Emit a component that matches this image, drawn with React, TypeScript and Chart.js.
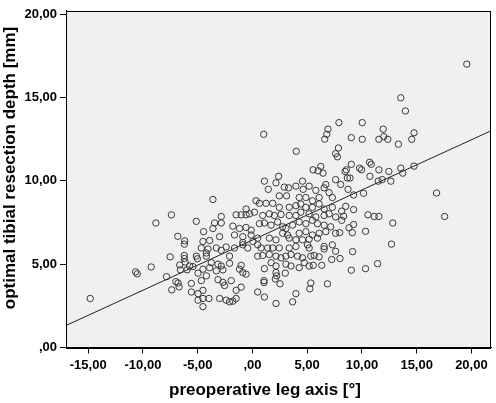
import React, { useEffect, useRef } from "react";
import { Chart, registerables } from "chart.js";

Chart.register(...registerables);

const legAxis = [
  1.03, 4.0, 6.9, 6.79, 6.6, 7.9, 7.85, 7.6,
  19.58, 13.55, 13.97, 10.03, 11.94, 9.03, 10.03, 11.55, 12.0, 12.36, 13.33, 14.76, 14.55,
  9.03, 8.58, 8.46, 8.67, 8.91, 8.06, 9.79, 9.97, 10.7, 10.85, 11.55, 12.46, 13.55, 13.73, 14.76, 10.73, 11.49, 11.85, 12.64, 8.73, 9.24, 10.15, 16.82, 8.52, 8.15, 8.33, 9.24, 8.15, 10.55, 11.12, 11.55, 17.55, 12.82, 9.24, 8.82, 9.12, 10.33, 7.97, 12.7,
  9.15, 8.0, 9.03, 10.33, 11.43,
  -7.4, -8.82, -5.13, -6.82, -6.19,
  -14.82, -10.67, -10.52, -9.25, -7.52, -6.22, -6.22, -6.15, -6.64, -5.73, -5.12, -5.03, -6.58, -5.97, -5.43, -7.85, -7.0, -6.79, -6.7, -7.37, -5.58, -5.58, -4.97, -4.97, -4.97, -6.22,
  7.76, 5.54, 6.0, 6.45, 6.24, 7.6, 1.09, 2.39, 2.15, 1.45, 2.91, 3.3, 3.97, 4.57, 4.63, 5.18, 5.79, 6.55, 6.7, 7.0,
  2.45, 3.12, 4.27, 4.88, 5.48, 6.09, 7.3, -3.61, 0.33, 0.64, 1.24, 1.85, 2.45, 3.36, 3.97, 4.42, 4.88, 5.48, 6.09, 6.55, 7.3,
  -0.58, -0.27, 0.18, -1.49, -1.03, -0.58, 0.94, 1.54, 2.0, 2.61, 3.36, 3.97, 4.42, 5.18, 5.79, 6.55, 7.0, 7.6,
  -2.85, -2.85, -3.46, -3.61, -4.46, -1.79, -1.18, -0.58, -0.12, 0.64, 1.09, 1.7, 2.3, 2.76, 3.06, 3.67, 4.27, 4.88, 5.48, 5.94, 6.55, 7.15,
  2.76, 3.21, 4.27, 4.88, 5.48, 6.09, 6.7, 7.6, -3.0, -1.64, -0.88, -0.12, 0.48, 1.54, 2.15, 3.36, 3.97, 4.57, 5.18, 5.94, -4.52, -3.91, -0.88, 0.03,
  -4.67, -4.06, -3.3, -2.85, -2.4, -1.64, -0.88, -0.43, 0.48, 0.79, 1.39, 1.85, 2.45, 3.36, 3.97, 5.03, 5.18, 6.55, 6.55, 7.3, 7.6,
  -4.21, -4.21, -2.09, 0.48, 0.94, 1.54, 2.15, 2.61, 3.06, 3.52, 4.12, 4.57, 5.33, 5.64, 6.09, 7.24,
  -3.76, -3.15, -2.85, -2.09, -1.03, 1.09, 1.7, 2.15, 3.06, 3.52, 4.27, 4.73, 5.18, 5.55, 6.33,
  -4.52, -3.91, -3.3, -2.7, -1.18, -0.88, -0.58, -4.21, -4.67, -3.15, -2.7, -2.55, -1.94, -4.52, -1.49, -1.03,
  1.06, 1.06, 2.15, 2.21, 2.09, 2.52, 3.0, 5.33, 5.24, 6.85, 0.48, 1.09, 3.97, 3.67, 2.15,
  -4.52, -3.0, -3.97, -2.4, -2.09, -1.79, -1.49, -4.52,
];

const resectionDepth = [
  12.79, 11.77, 13.1, 12.79, 12.5, 13.49, 11.97, 11.63,
  17.0, 14.98, 14.19, 13.49, 13.1, 12.59, 12.49, 12.49, 12.65, 12.49, 12.2, 12.88, 12.49,
  10.99, 10.66, 10.56, 10.17, 10.17, 9.78, 10.76, 10.66, 11.11, 10.99, 10.66, 10.56, 10.76, 10.46, 10.88, 10.27, 9.98, 10.07, 9.98, 9.49, 9.15, 9.25, 9.27, 8.47, 8.18, 7.88, 8.27, 7.63, 7.96, 7.86, 7.86, 7.86, 7.47, 7.38, 7.18, 6.89, 6.97, 6.89, 6.2,
  5.75, 5.34, 4.64, 4.73, 5.03,
  7.96, 7.47, 7.57, 6.67, 6.4,
  2.94, 4.54, 4.42, 4.83, 5.44, 5.52, 5.34, 5.13, 4.95, 4.89, 5.48, 5.32, 4.66, 4.66, 4.85, 4.25, 3.95, 3.87, 3.64, 3.46, 3.84, 3.33, 4.46, 3.23, 2.84, 6.2,
  11.44, 10.66, 10.6, 10.46, 10.86, 10.07, 9.98, 10.27, 9.88, 9.49, 9.62, 9.58, 9.68, 9.98, 9.49, 9.68, 9.43, 9.58, 9.78, 9.29,
  9.1, 9.1, 9.0, 9.0, 8.8, 9.0, 9.0, 8.88, 8.8, 8.65, 8.65, 8.65, 8.41, 8.41, 8.51, 8.61, 8.41, 8.41, 8.61, 8.31, 8.41,
  8.31, 8.02, 8.12, 7.96, 7.96, 7.96, 7.92, 8.02, 7.92, 7.98, 7.92, 7.92, 8.12, 8.02, 7.83, 7.92, 8.02, 7.83,
  7.86, 7.47, 7.47, 7.14, 6.95, 7.28, 7.14, 7.2, 7.04, 7.43, 7.47, 7.34, 7.53, 7.24, 7.14, 7.34, 7.53, 7.43, 7.63, 7.43, 7.34, 7.24,
  6.85, 6.75, 6.85, 6.95, 6.75, 6.85, 6.95, 6.85, 6.65, 6.75, 6.65, 6.75, 6.56, 6.56, 6.46, 6.56, 6.46, 6.46, 6.5, 6.56, 6.36, 6.42, 6.3, 6.36,
  5.97, 5.91, 5.97, 5.83, 6.03, 5.97, 6.16, 5.97, 6.16, 5.97, 5.97, 5.97, 5.97, 5.97, 6.06, 6.16, 5.97, 6.06, 5.91, 6.16, 5.77,
  5.67, 5.48, 5.48, 5.48, 5.52, 5.58, 5.48, 5.38, 5.48, 5.58, 5.48, 5.38, 5.48, 5.52, 5.44, 5.28,
  5.09, 5.0, 4.89, 5.05, 4.93, 4.73, 5.09, 4.89, 5.0, 4.89, 4.79, 5.09, 4.89, 4.93, 4.93,
  4.7, 4.79, 4.6, 4.66, 4.7, 4.5, 4.4, 4.3, 4.01, 4.07, 3.91, 3.72, 4.01, 3.43, 3.43, 3.62,
  4.01, 3.9, 4.5, 4.3, 4.11, 3.82, 4.46, 3.87, 3.52, 3.82, 3.33, 3.03, 3.23, 2.74, 2.64,
  2.94, 2.94, 2.94, 2.84, 2.74, 2.78, 2.94, 2.45,
];

const xTickValues = [-15, -10, -5, 0, 5, 10, 15, 20];
const yTickValues = [0, 5, 10, 15, 20];
const xRange = [-17.03, 21.79];
const yRange = [0, 20.2];
const fitLineX = [-17.03, 21.79];
const fitLineY = [1.32, 13.0];
const xTitle = "preoperative leg axis [°]";
const yTitle = "optimal tibial resection depth [mm]";

const FONT = "'Liberation Sans', Arial, sans-serif";
const fmt = (v: number) => (v === 0 ? ",00" : v.toFixed(2).replace(".", ","));

const frame = {
  id: "frame",
  beforeDraw(chart: any) {
    const { ctx, chartArea } = chart;
    ctx.save();
    ctx.fillStyle = "#ffffff";
    ctx.fillRect(0, 0, chart.width, chart.height);
    ctx.fillStyle = "#f0f0f0";
    ctx.fillRect(chartArea.left, chartArea.top, chartArea.right - chartArea.left, chartArea.bottom - chartArea.top);
    ctx.restore();
  },
  afterDraw(chart: any) {
    const { ctx, chartArea } = chart;
    ctx.save();
    ctx.strokeStyle = "#000";
    ctx.lineWidth = 1;
    ctx.strokeRect(Math.round(chartArea.left) + 0.5, Math.round(chartArea.top) + 0.5,
      Math.round(chartArea.right - chartArea.left) - 1, Math.round(chartArea.bottom - chartArea.top));
    // axis titles
    ctx.fillStyle = "#000";
    ctx.font = `bold 17px ${FONT}`;
    ctx.textAlign = "center";
    ctx.textBaseline = "middle";
    ctx.fillText(xTitle, 265, 390);
    ctx.translate(10, 168);
    ctx.rotate(-Math.PI / 2);
    ctx.fillText(yTitle, 0, 0);
    ctx.restore();
  },
};

export default function App() {
  const ref = useRef<HTMLCanvasElement | null>(null);
  useEffect(() => {
    if (!ref.current) return;
    const points = legAxis.map((x, i) => ({ x, y: resectionDepth[i] }));
    const line = fitLineX.map((x, i) => ({ x, y: fitLineY[i] }));
    const chart = new Chart(ref.current, {
      type: "scatter",
      data: {
        datasets: [
          {
            type: "line",
            data: line,
            borderColor: "#222",
            borderWidth: 1,
            pointRadius: 0,
            fill: false,
            order: 1,
          } as any,
          {
            data: points,
            pointRadius: 3.2,
            pointBorderWidth: 1,
            borderColor: "#3a3a3a",
            backgroundColor: "rgba(0,0,0,0)",
            pointBackgroundColor: "rgba(0,0,0,0)",
            pointBorderColor: "#3a3a3a",
            order: 0,
          },
        ],
      },
      options: {
        animation: false,
        responsive: false,
        layout: { padding: { top: 3, right: 3, left: 0, bottom: 0 } },
        plugins: { legend: { display: false }, tooltip: { enabled: false } },
        scales: {
          x: {
            type: "linear",
            min: xRange[0],
            max: xRange[1],
            afterBuildTicks: (s: any) => { s.ticks = xTickValues.map((v) => ({ value: v })); },
            afterFit: (s: any) => { s.height = 55.5; },
            grid: { display: true, drawOnChartArea: false, drawTicks: true, tickLength: 6, color: "#000" },
            border: { display: true, color: "#000" },
            ticks: { color: "#000", padding: 4, font: { family: FONT, size: 13, weight: "bold" }, callback: (v: any) => fmt(Number(v)), maxRotation: 0, autoSkip: false },
            title: { display: false },
          },
          y: {
            type: "linear",
            min: yRange[0],
            max: yRange[1],
            afterBuildTicks: (s: any) => { s.ticks = yTickValues.map((v) => ({ value: v })); },
            afterFit: (s: any) => { s.width = 66; },
            grid: { display: true, drawOnChartArea: false, drawTicks: true, tickLength: 6, color: "#000" },
            border: { display: true, color: "#000" },
            ticks: { color: "#000", padding: 3, font: { family: FONT, size: 13, weight: "bold" }, callback: (v: any) => fmt(Number(v)), autoSkip: false },
            title: { display: false },
          },
        },
      },
      plugins: [frame],
    });
    return () => chart.destroy();
  }, []);
  return (
    <div style={{ position: "absolute", left: 0, top: 0, width: 496, height: 403 }}>
      <canvas ref={ref} width={496} height={403} />
    </div>
  );
}
